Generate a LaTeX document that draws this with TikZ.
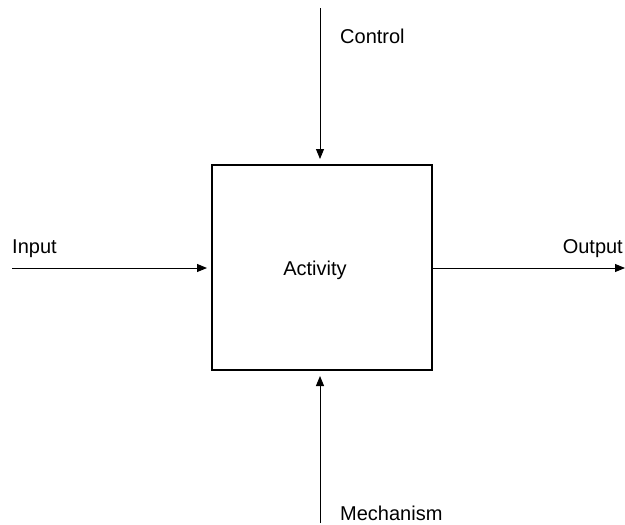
\documentclass[tikz,border=0pt]{standalone}
\usepackage{fontspec}
\setmainfont{Liberation Sans}
\usetikzlibrary{arrows.meta}
\begin{document}
\begin{tikzpicture}[x=1pt,y=-1pt,
  lbl/.style={inner sep=0pt,font=\fontsize{20}{24}\selectfont},
  conn/.style={line width=1pt,-{Triangle[length=10pt,width=8pt]}},
  actbox/.style={draw,line width=2pt,minimum width=220pt,minimum height=205pt,inner sep=0pt}]
\useasboundingbox (0,0) rectangle (625,525);
\node[actbox] (act) at (322,267.5) {};
\node[lbl] (actlbl) at (315,270) {Activity};
\coordinate (ctop) at (320,8);
\coordinate (mbot) at (320,523);
\coordinate (inl) at (12,268);
\coordinate (outr) at (625,268);
\draw[conn,shorten >=5pt] (ctop) -- (ctop |- act.north);
\draw[conn,shorten >=5pt] (mbot) -- (mbot |- act.south);
\draw[conn,shorten >=4pt] (inl) -- (inl -| act.west);
\draw[conn] (inl -| act.east) -- (outr);
\node[lbl,anchor=west] (ctl) at (340,36) {Control};
\node[lbl,anchor=west] (inp) at (12,249) {Input};
\node[lbl,anchor=east] (outp) at (623,249) {Output};
\node[lbl,anchor=west] (mech) at (340,513) {Mechanism};
\end{tikzpicture}
\end{document}
